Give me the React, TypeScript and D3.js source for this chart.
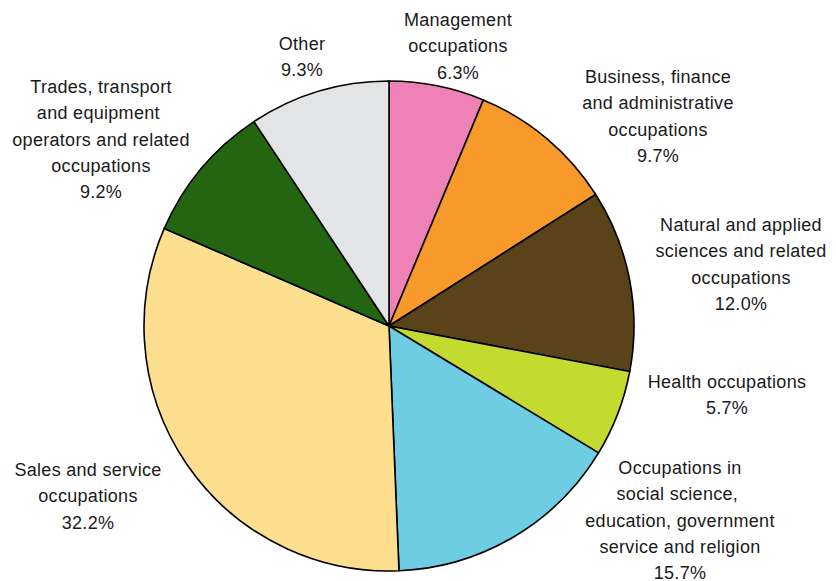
import React, {useMemo} from 'react';
import * as d3 from 'd3';

// occupation groups, clockwise from 12 o'clock
const categories = [
  'Management occupations',
  'Business, finance and administrative occupations',
  'Natural and applied sciences and related occupations',
  'Health occupations',
  'Occupations in social science, education, government service and religion',
  'Sales and service occupations',
  'Trades, transport and equipment operators and related occupations',
  'Other',
];
const shares = [6.3, 9.7, 12.0, 5.7, 15.7, 32.2, 9.2, 9.3];
const colors = ['#EE82B6', '#F7992B', '#5A4219', '#C3DB30', '#6FCDE3', '#FDDF8F', '#246511', '#E3E4E6'];

// label text broken as in the original (trailing spaces kept, they shift the centring)
const labelLines = [
  ['Management', 'occupations'],
  ['Business, finance', 'and administrative', 'occupations'],
  ['Natural and applied', 'sciences and related', 'occupations'],
  ['Health occupations'],
  ['Occupations in', 'social science, ', 'education, government', 'service and religion'],
  ['Sales and service', 'occupations'],
  ['Trades, transport', 'and equipment ', 'operators and related', 'occupations'],
  ['Other'],
];
// label anchor (centre x, first baseline)
const labelPos: [number, number][] = [
  [458, 26], [658, 83], [741, 231], [727, 388],
  [680, 474], [88, 476], [101, 93], [302, 50],
];

const W = 836;
const H = 581;
const cx = 389;
const cy = 326;
const radius = 245;
const lineH = 26.25;

const App: React.FC = () => {
  const arcs = useMemo(() => d3.pie<number>().sort(null).value(d => d)(shares), []);
  const arcGen = useMemo(() => d3.arc<d3.PieArcDatum<number>>().innerRadius(0).outerRadius(radius), []);

  return (
    <svg width={W} height={H} style={{position: 'absolute', left: 0, top: 0, background: '#fff'}}
         fontFamily="'Liberation Sans', Arial, sans-serif" fontSize={18}>
      <g transform={`translate(${cx},${cy})`}>
        {arcs.map((a, i) => (
          <path key={categories[i]} d={arcGen(a) || ''} fill={colors[i]}
                stroke="#000" strokeWidth={1.6} strokeLinejoin="round"/>
        ))}
      </g>
      {labelLines.map((lines, i) => {
        const [x, y] = labelPos[i];
        const all = [...lines, `${shares[i].toFixed(1)}%`];
        return (
          <text key={`lbl-${i}`} x={x} y={y} textAnchor="middle" fill="#1a1a1a"
                letterSpacing={0.3} style={{whiteSpace: 'pre'}}>
            {all.map((t, j) => (
              <tspan key={j} x={x} y={y + j * lineH}>{t}</tspan>
            ))}
          </text>
        );
      })}
      <text x={0} y={594} fill="#1a1a1a" letterSpacing={0.3}>Statistics Canada</text>
    </svg>
  );
};

export default App;
